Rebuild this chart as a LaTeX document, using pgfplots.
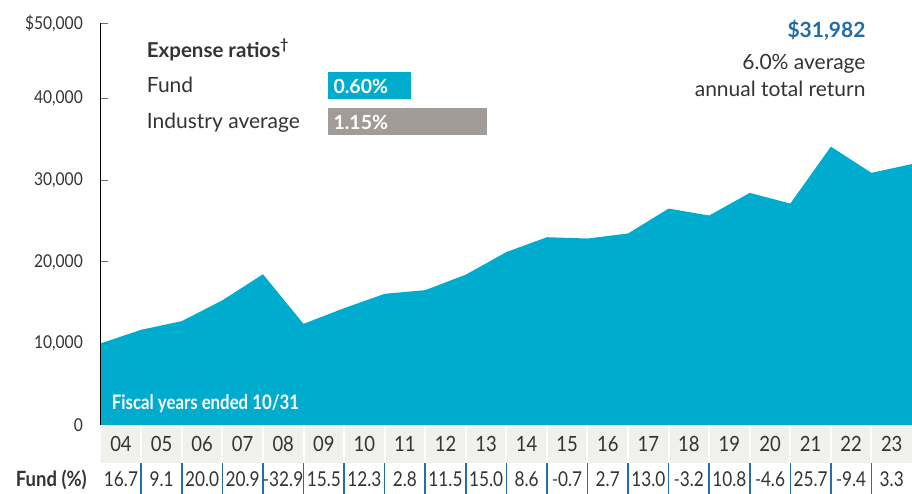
\documentclass[border=0pt]{standalone}
\usepackage{fontspec}
\setmainfont{Lato}
\newfontfamily\cond[FakeStretch=0.88]{Lato}
\newfontfamily\condb[FakeStretch=0.84]{Lato}
\usepackage{pgfplots}
\pgfplotsset{compat=1.18}
\usepackage{pgfplotstable}
\newcommand\mn{\scalebox{0.6}[1]{–}}
\definecolor{cyanA}{RGB}{0,172,206}
\definecolor{barGray}{RGB}{161,156,152}
\definecolor{blueText}{RGB}{30,108,170}
\definecolor{bandGray}{RGB}{240,240,236}
\definecolor{sepBlue}{RGB}{40,108,175}
\definecolor{textDark}{RGB}{51,51,51}
\definecolor{tickGray}{RGB}{110,110,110}

\pgfplotstableread{
x val
0 10000
1 11670
2 12732
3 15278
4 18472
5 12394
6 14316
7 16076
8 16526
9 18427
10 21191
11 23014
12 22852
13 23469
14 26520
15 25672
16 28444
17 27136
18 34110
19 30904
20 31982
}\growth

\begin{document}
\begin{tikzpicture}
\useasboundingbox (0pt,0pt) rectangle (912pt,494pt);
\begin{axis}[
  at={(100.7pt,69pt)}, anchor=south west, scale only axis,
  width=811.3pt, height=401.7pt,
  xmin=0, xmax=20, ymin=0, ymax=49230,
  clip=false, axis on top,
  scaled y ticks=false,
  axis y line*=left, axis x line*=bottom,
  x axis line style={draw=none},
  y axis line style={black, line width=1.3pt},
  xtick={0.5,1.5,...,19.5},
  xticklabels={04,05,06,07,08,09,10,11,12,13,14,15,16,17,18,19,20,21,22,23},
  xtick style={draw=none},
  xticklabel style={font=\cond\fontsize{21}{21}\selectfont, text=textDark, anchor=base, inner sep=0pt, yshift=-26.7pt},
  extra x ticks={0.5,1.5,...,19.5},
  extra x tick labels={16.7,9.1,20.0,20.9,\mn32.9,15.5,12.3,2.8,11.5,15.0,8.6,\mn0.7,2.7,13.0,\mn3.2,10.8,\mn4.6,25.7,\mn9.4,3.3},
  extra x tick style={xticklabel style={font=\condb\fontsize{20.5}{20.5}\selectfont, yshift=-35pt}},
  ytick={10000,20000,30000,40000,49230},
  yticklabels={{10,000},{20,000},{30,000},{40,000},{\$50,000}},
  extra y ticks={0}, extra y tick labels={0},
  extra y tick style={major tick length=0pt},
  ytick style={color=tickGray, line width=1.3pt},
  tick align=inside, major tick length=7.7pt,
  yticklabel style={font=\cond\fontsize{17.7}{17.7}\selectfont, text=textDark, anchor=east, inner sep=0pt, xshift=-17.7pt},
]
\fill[bandGray] (axis cs:0,0) rectangle ([yshift=-37.7pt]axis cs:20,0);
\pgfplotsinvokeforeach{1,...,19}{
  \draw[white, line width=2pt] (axis cs:#1,0) -- ([yshift=-37.7pt]axis cs:#1,0);
  \draw[sepBlue, line width=1.6pt] ([yshift=-37.7pt]axis cs:#1,0) -- ([yshift=-69pt]axis cs:#1,0);
}
\addplot[fill=cyanA, draw=none] table[x=x, y=val] {\growth} \closedcycle;
\end{axis}

\begin{axis}[
  at={(328.3pt,354.3pt)}, anchor=south west, scale only axis,
  width=158.4pt, height=72pt,
  xmin=0, xmax=1.15, ymin=-0.5, ymax=1.5,
  hide axis, xbar, bar width=26.7pt, clip=false,
]
\addplot[fill=barGray, draw=none, bar shift=0pt] coordinates {(1.15,0)};
\addplot[fill=cyanA, draw=none, bar shift=0pt] coordinates {(0.60,1)};
\node[anchor=base west, inner sep=0pt, text=white, font=\bfseries\fontsize{19.5}{19.5}\selectfont] at ([xshift=5pt, yshift=-8.3pt]axis cs:0,1) {0.60\%};
\node[anchor=base west, inner sep=0pt, text=white, font=\bfseries\fontsize{19.5}{19.5}\selectfont] at ([xshift=5pt, yshift=-8.3pt]axis cs:0,0) {1.15\%};
\end{axis}

\node[anchor=base west, inner sep=0pt, text=textDark, font=\bfseries\fontsize{20.5}{20.5}\selectfont] at (146.7pt,436.7pt) {Expense ratios\textsuperscript{\dag}};
\node[anchor=base west, inner sep=0pt, text=textDark, font=\fontsize{21}{21}\selectfont] at (146.7pt,401.3pt) {Fund};
\node[anchor=base west, inner sep=0pt, text=textDark, font=\fontsize{21}{21}\selectfont] at (146.7pt,365.7pt) {Industry average};

\node[anchor=base east, inner sep=0pt, text=blueText, font=\bfseries\fontsize{21}{21}\selectfont] at (865.7pt,456.7pt) {\$31,982};
\node[anchor=base east, inner sep=0pt, text=textDark, font=\fontsize{21}{21}\selectfont] at (865.7pt,424pt) {6.0\% average};
\node[anchor=base east, inner sep=0pt, text=textDark, font=\fontsize{21}{21}\selectfont] at (865.7pt,397.3pt) {annual total return};

\node[anchor=base west, inner sep=0pt, text=white, font=\condb\bfseries\fontsize{20}{20}\selectfont] at (111.7pt,84.7pt) {Fiscal years ended 10/31};
\node[anchor=base east, inner sep=0pt, text=textDark, font=\cond\bfseries\fontsize{21}{21}\selectfont] at (87pt,7.3pt) {Fund (\%)};
\end{tikzpicture}
\end{document}
